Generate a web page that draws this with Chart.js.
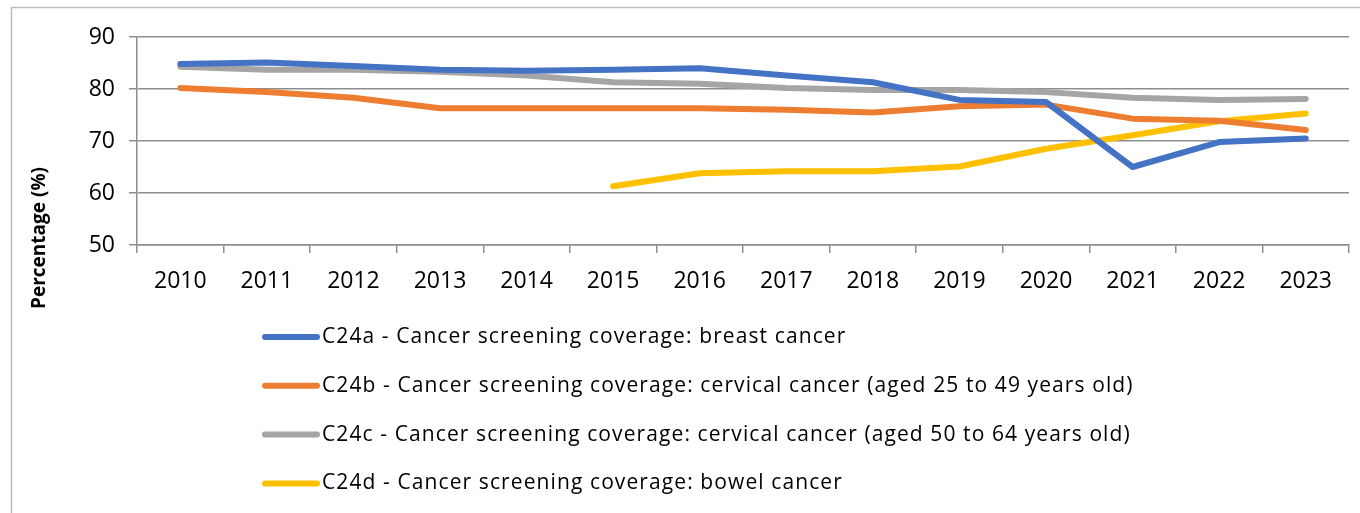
<!DOCTYPE html>
<html>
<head>
<meta charset="utf-8">
<script src="https://cdn.jsdelivr.net/npm/chart.js@4/dist/chart.umd.min.js"></script>
<style>
html,body{margin:0;padding:0;background:#fff;}
#wrap{width:1360px;height:513px;position:relative;}
</style>
</head>
<body>
<div id="wrap"><canvas id="c" width="1360" height="513"></canvas></div>
<script>
const years = ['2010','2011','2012','2013','2014','2015','2016','2017','2018','2019','2020','2021','2022','2023'];
const breast = [84.8, 85.1, 84.4, 83.7, 83.5, 83.7, 84.0, 82.6, 81.3, 77.9, 77.5, 65.0, 69.8, 70.5];
const cervical25to49 = [80.2, 79.4, 78.3, 76.3, 76.3, 76.3, 76.3, 76.0, 75.5, 76.7, 77.0, 74.3, 73.9, 72.1];
const cervical50to64 = [84.3, 83.7, 83.7, 83.3, 82.6, 81.3, 81.0, 80.2, 79.8, 79.8, 79.4, 78.3, 77.9, 78.1];
const bowel = [null, null, null, null, null, 61.3, 63.8, 64.2, 64.2, 65.1, 68.5, 71.1, 73.8, 75.3];
const seriesLabels = [
  'C24a - Cancer screening coverage: breast cancer',
  'C24b - Cancer screening coverage: cervical cancer (aged 25 to 49 years old)',
  'C24c - Cancer screening coverage: cervical cancer (aged 50 to 64 years old)',
  'C24d - Cancer screening coverage: bowel cancer'
];
const yTicks = [50, 60, 70, 80, 90];
const yTitle = 'Percentage (%)';

const colors = ['#4472C4', '#ED7D31', '#A5A5A5', '#FFC000'];
const FONT = "'Open Sans', 'Liberation Sans', Arial, sans-serif";
const gridColor = '#8e8e8e';

const frameAndExtras = {
  id: 'frameAndExtras',
  beforeDraw(chart) {
    const ctx = chart.ctx;
    ctx.save();
    ctx.strokeStyle = '#bdbdbd';
    ctx.lineWidth = 1.5;
    ctx.beginPath();
    ctx.moveTo(11.5, 513);
    ctx.lineTo(11.5, 7.5);
    ctx.lineTo(1360, 7.5);
    ctx.stroke();
    ctx.restore();
  },
  afterDraw(chart) {
    const ctx = chart.ctx;
    ctx.save();
    // y axis title
    ctx.translate(40, 238);
    ctx.rotate(-Math.PI / 2);
    ctx.font = "bold 19px " + FONT;
    ctx.fillStyle = '#000';
    ctx.textAlign = 'center';
    ctx.textBaseline = 'middle';
    ctx.fillText(yTitle, 0, 0);
    ctx.restore();
    // legend
    ctx.save();
    const x0 = 262, x1 = 320, y0 = 337, dy = 48.8;
    chart.data.datasets.forEach((ds, i) => {
      const y = y0 + i * dy;
      ctx.strokeStyle = ds.borderColor;
      ctx.lineWidth = 6;
      ctx.lineCap = 'round';
      ctx.beginPath();
      ctx.moveTo(x0 + 3, y);
      ctx.lineTo(x1 - 3, y);
      ctx.stroke();
      ctx.font = "21px " + FONT;
      ctx.letterSpacing = '1.1px';
      ctx.fillStyle = '#000';
      ctx.textAlign = 'left';
      ctx.textBaseline = 'middle';
      ctx.fillText(ds.label, 322, y);
    });
    ctx.restore();
  }
};

const datasets = [breast, cervical25to49, cervical50to64, bowel].map((d, i) => ({
  label: seriesLabels[i],
  data: d,
  borderColor: colors[i],
  backgroundColor: colors[i],
  borderWidth: 6,
  borderCapStyle: 'round',
  borderJoinStyle: 'round',
  pointRadius: 0,
  pointHoverRadius: 0,
  tension: 0,
  spanGaps: false,
  fill: false
}));

new Chart(document.getElementById('c'), {
  type: 'line',
  data: { labels: years, datasets: datasets },
  options: {
    responsive: false,
    animation: false,
    events: [],
    layout: { padding: { left: 0, top: 37, right: 11, bottom: 0 } },
    plugins: {
      legend: { display: false },
      tooltip: { enabled: false },
      title: { display: false }
    },
    scales: {
      x: {
        offset: true,
        grid: {
          display: true,
          offset: true,
          drawOnChartArea: false,
          drawTicks: true,
          tickLength: 8,
          color: gridColor,
          lineWidth: 1.5
        },
        border: { display: true, color: gridColor, width: 1.5 },
        ticks: {
          font: { family: FONT, size: 23 },
          color: '#000',
          padding: 15,
          maxRotation: 0,
          autoSkip: false
        },
        afterFit(scale) { scale.height = 268; }
      },
      y: {
        min: yTicks[0],
        max: yTicks[yTicks.length - 1],
        afterBuildTicks(scale) { scale.ticks = yTicks.map(v => ({ value: v })); },
        grid: {
          color: gridColor,
          lineWidth: 1.5,
          drawTicks: true,
          tickLength: 8
        },
        border: { display: true, color: gridColor, width: 1.5 },
        ticks: {
          font: { family: FONT, size: 23 },
          color: '#000',
          padding: 14
        },
        afterFit(scale) { scale.width = 137; }
      }
    }
  },
  plugins: [frameAndExtras]
});
</script>
</body>
</html>
